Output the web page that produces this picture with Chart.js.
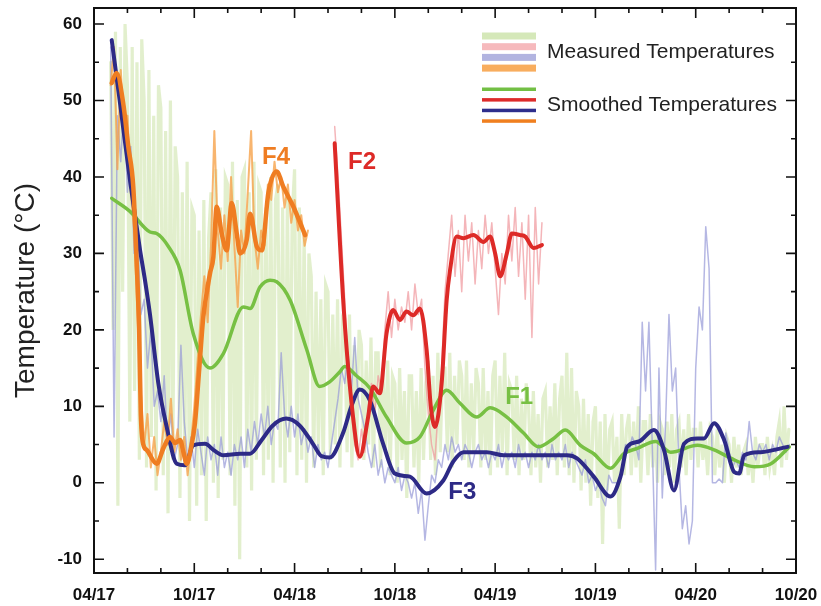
<!DOCTYPE html>
<html><head><meta charset="utf-8">
<script src="https://cdn.jsdelivr.net/npm/chart.js@4.4.1/dist/chart.umd.min.js"></script>
<style>html,body{margin:0;padding:0;background:#fff}#wrap{width:821px;height:606px}</style>
</head><body><div id="wrap"><canvas id="c" width="821" height="606"></canvas></div>
<script>
// x axis: months since April 2017
const xTickLabels = ['04/17','10/17','04/18','10/18','04/19','10/19','04/20','10/20'];

// Smoothed temperatures (month, value)
const f1SmoothX = [1.06,2.15,3.35,3.75,4.45,5.15,5.94,6.94,7.74,8.94,9.34,9.93,10.53,10.93,11.73,12.73,13.5,14.1,14.7,15.0,15.7,16.5,17.5,18.7,19.5,20.3,21.1,21.9,22.9,23.7,24.7,25.7,26.6,27.5,28.2,29.1,29.9,30.9,31.7,32.5,33.6,34.5,36.1,37.1,38.3,39.5,40.5,41.6];
const f1SmoothY = [37.2,35.5,32.8,32.6,30.9,27.8,19.5,15.0,16.9,23.0,22.8,25.6,26.5,26.3,23.9,17.4,12.6,13.2,14.5,15.2,14.0,12.4,8.6,5.2,6.0,9.5,12.1,10.4,8.6,9.8,8.6,6.5,4.7,5.8,6.9,4.9,3.8,1.9,3.8,4.5,5.4,4.0,4.9,4.3,3.0,2.1,2.5,4.7];

const f2SmoothX = [14.4,14.95,15.5,15.9,16.4,16.7,17.1,17.5,17.9,18.3,18.7,19.1,19.5,19.9,20.15,20.4,20.8,21.1,21.3,21.7,22.1,22.7,23.3,23.7,24.0,24.3,24.7,25.0,25.5,25.8,26.3,26.8];
const f2SmoothY = [44.4,22.5,8.6,3.4,8.6,12.6,11.7,19.5,22.6,21.3,22.4,21.9,22.8,17.4,10.0,7.3,13.0,23.9,27.8,32.2,32.0,32.4,31.5,32.2,30.0,27.0,30.0,32.6,32.4,32.2,30.7,31.1];

const f3SmoothX = [1.06,1.56,2.15,2.75,3.05,3.35,3.85,4.35,4.95,5.45,5.94,6.64,7.2,7.74,8.74,9.34,10.0,10.7,11.5,12.3,13.1,13.6,14.1,14.9,15.4,15.9,16.5,17.3,18.0,18.9,19.9,20.9,21.5,22.1,23.5,24.5,26.5,28.3,28.9,29.9,30.9,31.5,31.9,32.6,33.5,34.1,34.7,35.3,36.1,36.5,37.1,37.7,38.3,38.6,38.9,39.9,41.5];
const f3SmoothY = [57.9,49.6,39.6,30.5,26.5,22.0,13.0,7.3,2.5,2.3,4.9,5.1,4.2,3.6,3.8,3.8,5.5,7.5,8.4,7.5,5.1,3.5,3.3,6.5,10.0,12.2,10.8,5.1,1.2,0.8,-1.4,0.3,2.8,4.0,4.0,3.6,3.6,3.6,3.2,0.8,-1.8,0.8,4.7,5.4,6.9,4.3,-1.0,5.1,5.8,5.8,7.8,5.6,1.4,1.2,3.6,4.0,4.7];

const f4SmoothX = [1.06,1.35,1.75,2.05,2.35,2.55,2.7,2.8,2.95,3.15,3.75,4.15,4.55,4.85,5.15,5.35,5.55,5.8,6.04,6.3,6.54,6.74,6.95,7.14,7.34,7.64,7.94,8.24,8.54,8.74,9.14,9.34,9.74,10.04,10.43,10.93,11.33,11.93,12.63];
const f4SmoothY = [52.3,53.6,49.6,44.0,38.7,29.0,20.0,9.0,5.0,4.3,2.5,4.5,6.0,5.2,5.6,4.0,2.5,4.5,7.8,15.0,21.7,24.8,27.5,29.5,36.1,32.6,30.4,36.6,32.6,30.0,31.8,35.2,30.9,30.4,37.9,40.7,38.7,36.1,32.4];

// Measured temperatures (regular sampling: start month, step in months)
const f1MeasStart = 1.0, f1MeasStep = 1/7;
const f1Meas = [
55,20,59,-3,57,25,60, 52,8,57,12,55,3,58, 50,2,54,6,48,-1,52, 49,1,46,-4,50,3,44,
40,-2,38,2,42,-5,36, 35,-3,33,1,37,-5,32, 38,0,41,-2,36,3,40, 39,1,42,-3,37,-10,40,
41,2,38,-1,42,3,39, 38,1,36,3,40,0,37, 39,2,36,0,38,4,35, 41,1,36,3,33,0,30,
27,2,25,4,24,1,26, 25,3,22,5,24,2,21, 20,4,22,2,18,5,20, 18,3,16,5,19,2,17,
17,2,15,4,16,1,14, 13,0,15,3,12,-2,14, 14,2,12,0,15,3,13, 16,3,14,1,17,4,15,
15,4,17,2,14,5,16, 14,3,16,2,13,4,15, 13,2,15,3,12,1,14, 16,2,14,4,17,1,13,
12,3,14,1,11,3,13, 10,1,12,2,9,0,11, 12,2,10,3,13,1,11, 14,2,17,1,15,0,12,
10,-1,11,0,9,-3,8, 10,-2,8,-8,9,-1,7, 8,0,6,-6,9,1,7, 9,1,8,2,10,0,8,
8,1,9,2,7,0,8, 7,1,8,2,9,0,7, 8,2,7,1,9,3,7, 7,2,8,3,6,1,7,
6,1,7,2,5,0,6, 5,0,6,2,5,1,4, 5,1,4,0,6,2,5, 5,1,6,2,4,1,6, 8,2,10,3,7];

const f2MeasStart = 14.4, f2MeasStep = 0.2;
const f2Meas = [46.6,40,32,24,15,9,5,3,7,4,10,13,9,14,12,20,25,19,24,20,23,21,25,20,26,22,24,15,9,5,3,10,15,25,30,35,27,33,25,35,29,34,26,33,28,35,30,34,28,22,30,26,35,29,36,27,34,24,35,19,36,26,34];

const f3MeasStart = 1.0, f3MeasStep = 0.2;
const f3Meas = [
57,6,48,42,50, 38,44,30,33,22, 24,15,20,10,12, 8,14,5,9,3, 5,18,8,3,6,
2,7,4,1,6, 3,5,1,6,2, 4,1,5,3,6, 2,7,4,8,5, 9,6,10,5,8, 7,17,9,6,10,
6,9,5,7,4, 6,2,5,3,4, 2,5,8,11,15, 13,17,12,19,11, 9,7,4,2,5, 1,3,0,2,1,
0,2,-1,1,0, -2,0,-4,-1,-7.5, -3,1,0,3,2, 5,3,6,4,5, 3,5,4,2,4, 5,3,4,2,4,
3,5,2,4,3, 4,2,5,3,4, 2,4,3,5,3, 4,2,5,3,4, 3,5,2,4,3, 2,1,3,0,1,
-1,0,-2,-3,1, 0,0,0,2,5, 4,6,5,3,21, 12,21,5,-11.4,15, -2,8,22,12,15,
2,-6,-3,-8,-5, 15,23,20,33.5,28, 0,0,0.5,0,6.5, 4,2,3,2,4, 3,8,4,3,5, 4,5,3,5,4, 6,5,4,5];

const f4MeasStart = 1.0, f4MeasStep = 0.2;
const f4Meas = [52,57,41,54,46,48,38,33,22,12,5,9,2,6,1,4,8,5,11,4,7,3,6,1,5,10,16,22,27,21,31,46,33,28,35,29,40,31,23,33,30,38,46,32,28,33,31,39,37,42,38,40,36,39,34,37,33,35,31,33];

function pairs(xs, ys){ return ys.map((v,i)=>({x:xs[i], y:v})); }
function sampled(start, step, ys){ return ys.map((v,i)=>({x:start+i*step, y:v})); }

const deco = {
  id:'deco',
  afterDatasetsDraw(chart){
    const {ctx, chartArea:a, scales:{x,y}} = chart;
    ctx.save();
    ctx.strokeStyle = '#111';
    ctx.lineWidth = 2;
    ctx.strokeRect(a.left, a.top, a.right-a.left, a.bottom-a.top);
    ctx.lineWidth = 1.6;
    ctx.beginPath();
    const yt = y.ticks.map(t=>t.value);
    const yTick = (v,len)=>{const p=y.getPixelForValue(v); ctx.moveTo(a.left,p); ctx.lineTo(a.left+len,p); ctx.moveTo(a.right,p); ctx.lineTo(a.right-len,p);};
    yt.forEach(v=>yTick(v,10));
    for(let i=0;i<yt.length-1;i++) yTick((yt[i]+yt[i+1])/2,5);
    const xt = x.ticks.map(t=>t.value);
    const xTick = (v,len)=>{const p=x.getPixelForValue(v); ctx.moveTo(p,a.bottom); ctx.lineTo(p,a.bottom-len); ctx.moveTo(p,a.top); ctx.lineTo(p,a.top+len);};
    xt.forEach(v=>xTick(v,10));
    for(let i=0;i<xt.length-1;i++){ const d=(xt[i+1]-xt[i])/3; xTick(xt[i]+d,5); xTick(xt[i]+2*d,5); }
    ctx.stroke();
    ctx.restore();
  },
  afterDraw(chart){
    const {ctx, scales:{x,y}} = chart;
    ctx.save();
    // legend
    const meas = ['#d5e8b9','#f6b9bc','#b2b4e0','#f8ad5e'];
    const smo = ['#72bf44','#dd2b2a','#2e2e8c','#f07f1f'];
    meas.forEach((c,i)=>{ ctx.fillStyle=c; ctx.fillRect(482, 32.5+i*10.7, 54, 7); });
    smo.forEach((c,i)=>{ ctx.fillStyle=c; ctx.fillRect(482, 87.5+i*10.6, 54, 3.5); });
    ctx.fillStyle='#222';
    ctx.font = '21px "Liberation Sans", Arial, sans-serif';
    ctx.textBaseline='middle';
    ctx.textAlign='left';
    ctx.fillText('Measured Temperatures', 547, 52);
    ctx.fillText('Smoothed Temperatures', 547, 105);
    // series labels
    ctx.font = 'bold 24px "Liberation Sans", Arial, sans-serif';
    const lab = [['F4',10.05,42.6,'#ef7d22'],['F2',15.2,41.9,'#dd2a27'],['F1',24.6,11.2,'#77c043'],['F3',21.2,-1.2,'#2d2a86']];
    lab.forEach(([t,mx,vy,c])=>{ ctx.fillStyle=c; ctx.fillText(t, x.getPixelForValue(mx), y.getPixelForValue(vy)); });
    ctx.restore();
  }
};

const lineCommon = {pointRadius:0, borderJoinStyle:'round', borderCapStyle:'round'};
new Chart(document.getElementById('c'), {
  type:'line',
  data:{datasets:[
    {...lineCommon, data:pairs(f2SmoothX,f2SmoothY), borderColor:'#dd2a27', borderWidth:4, cubicInterpolationMode:'monotone', order:1},
    {...lineCommon, data:pairs(f4SmoothX,f4SmoothY), borderColor:'#ef7d22', borderWidth:4.5, cubicInterpolationMode:'monotone', order:2},
    {...lineCommon, data:pairs(f3SmoothX,f3SmoothY), borderColor:'#2d2a86', borderWidth:4, cubicInterpolationMode:'monotone', order:3},
    {...lineCommon, data:pairs(f1SmoothX,f1SmoothY), borderColor:'#77c043', borderWidth:3.5, cubicInterpolationMode:'monotone', order:4},
    {...lineCommon, data:sampled(f4MeasStart,f4MeasStep,f4Meas), borderColor:'rgba(246,162,75,0.8)', borderWidth:2, order:5},
    {...lineCommon, data:sampled(f3MeasStart,f3MeasStep,f3Meas), borderColor:'rgba(150,152,215,0.7)', borderWidth:1.5, order:6},
    {...lineCommon, data:sampled(f2MeasStart,f2MeasStep,f2Meas), borderColor:'rgba(240,150,155,0.7)', borderWidth:1.5, order:7},
    {...lineCommon, data:sampled(f1MeasStart,f1MeasStep,f1Meas), borderColor:'rgba(210,230,178,0.65)', borderWidth:3.2, borderJoinStyle:'miter', order:8}
  ]},
  options:{
    responsive:false, animation:false, devicePixelRatio:1,
    layout:{padding:{top:8, right:25, left:0, bottom:0}},
    plugins:{legend:{display:false}, tooltip:{enabled:false}},
    scales:{
      x:{type:'linear', min:0, max:42,
         grid:{display:false, drawTicks:false}, border:{display:false},
         ticks:{stepSize:6, padding:12, color:'#111', maxRotation:0, autoSkip:false,
                font:{family:'"Liberation Sans", Arial, sans-serif', size:17, weight:'bold'},
                callback:(v)=>xTickLabels[Math.round(v/6)] ?? ''},
         afterFit:(s)=>{s.height=33; s.paddingLeft=0; s.paddingRight=0;}},
      y:{type:'linear', min:-11.8, max:62.1,
         grid:{display:false, drawTicks:false}, border:{display:false},
         ticks:{stepSize:10, includeBounds:false, padding:12, color:'#111',
                font:{family:'"Liberation Sans", Arial, sans-serif', size:17, weight:'bold'}},
         title:{display:true, text:'Temperature (°C)', color:'#222', padding:{top:9,bottom:0},
                font:{family:'"Liberation Sans", Arial, sans-serif', size:28}},
         afterFit:(s)=>{s.width=94; s.paddingTop=0; s.paddingBottom=0;}}
    }
  },
  plugins:[deco]
});
</script></body></html>
